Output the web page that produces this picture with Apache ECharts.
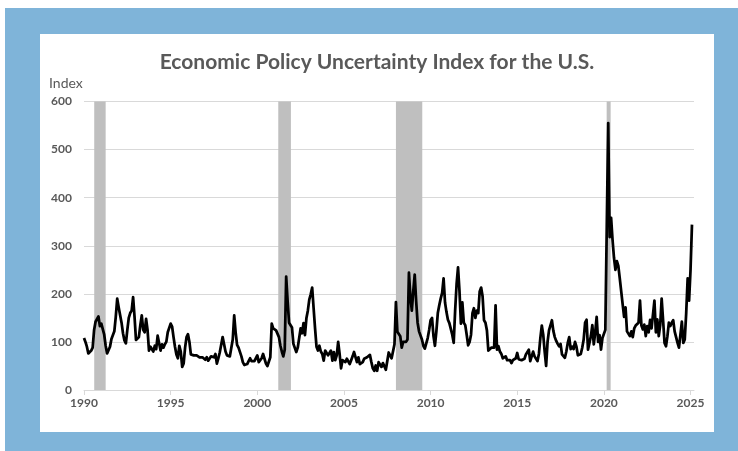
<!DOCTYPE html>
<html><head><meta charset="utf-8">
<script src="https://cdn.jsdelivr.net/npm/echarts@6/dist/echarts.min.js"></script>
<style>html,body{margin:0;padding:0;background:#fff;}#c{width:738px;height:451px;}</style>
</head><body><div id="c"></div>
<script>
// Monthly Economic Policy Uncertainty index, starting January 1990
const startYear = 1990;
const epu1990s = [
  108,100,90,76,77,82,88,125,142,140,153,133,
  138,135,115,92,76,76,90,106,110,122,152,190,
  172,170,140,118,103,97,125,150,160,165,193,152,
  104,108,110,135,155,125,120,148,125,82,90,88,
  80,92,85,113,112,82,95,88,95,100,120,117,
  138,132,110,90,74,66,92,80,48,55,88,110,
  116,100,74,70,72,70,72,70,68,72,68,66,
  63,68,61,62,70,74,68,75,55,66,78,82,
  110,95,80,72,68,70,72,105,155,120,94,88,
  86,70,58,52,50,54,60,66,60,63,60,58
];
const epu2000s = [
  72,58,60,66,75,65,55,50,48,68,138,128,
  126,124,122,110,92,80,70,84,236,185,140,142,
  130,96,93,79,88,86,128,118,139,114,149,165,
  188,199,213,170,128,90,82,92,80,75,61,82,
  80,72,72,82,61,79,62,72,100,75,45,62,
  62,58,65,68,54,62,70,79,82,58,68,54,
  56,58,65,62,68,65,73,58,45,40,51,40,
  58,61,48,56,55,42,45,78,74,66,70,95,
  183,121,124,112,88,100,96,100,105,244,195,165,
  205,240,185,140,122,118,105,92,86,89,108,125
];
const epu2010s = [
  145,150,112,92,122,160,176,190,202,232,182,162,
  146,139,135,115,98,165,220,255,206,138,182,140,
  135,115,93,100,115,160,170,150,165,160,205,213,
  195,145,140,124,82,81,88,91,88,176,84,91,
  80,75,66,63,70,62,66,62,56,62,59,66,
  77,64,60,62,60,65,74,77,84,60,70,80,
  70,68,60,75,108,134,115,80,50,100,124,125,
  145,123,110,102,96,91,96,74,77,67,80,98,
  110,85,90,85,100,90,72,72,75,88,105,140,
  146,84,85,112,135,95,120,152,100,114,84,108
];
const epu2020s = [
  112,125,340,555,318,358,312,275,250,268,258,232,
  205,178,152,172,122,125,112,122,110,128,134,136,
  140,186,134,126,136,112,133,120,146,128,130,186,
  120,147,112,135,190,145,98,91,112,140,133,140,
  145,122,110,98,88,92,142,98,105,160,232,186,
  250,344
];
// NBER recessions (decimal years, as shaded in the reference)
const recessionStart = [1990.59, 2001.21, 2008.0, 2020.16];
const recessionEnd   = [1991.25, 2001.94, 2009.52, 2020.39];
const xTickYears = [1990, 1995, 2000, 2005, 2010, 2015, 2020, 2025];

const values = [].concat(epu1990s, epu2000s, epu2010s, epu2020s);
const lineData = values.map((v, i) => [startYear + i / 12, v]);
const recData = recessionStart.map((s, i) => [s, recessionEnd[i]]);

const FONT = 'Lato';
const GREY = '#595959';
const chart = echarts.init(document.getElementById('c'), null, {renderer: 'canvas'});
chart.setOption({
  animation: false,
  backgroundColor: 'transparent',
  graphic: [
    {type: 'rect', z: -100, shape: {x: 5, y: 8, width: 733, height: 443}, style: {fill: '#7fb4d9'}},
    {type: 'rect', z: -99, shape: {x: 40, y: 34, width: 674, height: 398}, style: {fill: '#ffffff'}},
    {type: 'text', z: 100, x: 377, y: 62, style: {text: 'Economic Policy Uncertainty Index for the U.S.', textAlign: 'center', textVerticalAlign: 'middle', fill: GREY, font: 'bold 21px ' + FONT}},
    {type: 'text', z: 100, x: 49, y: 83, style: {text: 'Index', textAlign: 'left', textVerticalAlign: 'middle', fill: GREY, font: '14px ' + FONT}}
  ],
  grid: {left: 84, right: 44, top: 101.5, bottom: 61, containLabel: false},
  xAxis: {
    type: 'value', min: 1990, max: 2025.2, interval: 5,
    axisLine: {show: true, lineStyle: {color: '#d9d9d9', width: 1}},
    axisTick: {show: true, length: 5, customValues: xTickYears, lineStyle: {color: '#d9d9d9'}},
    axisLabel: {customValues: xTickYears, formatter: function (v) { return String(Math.round(v)); },
      color: GREY, fontWeight: 'bold', fontSize: 12, fontFamily: FONT, margin: 7},
    splitLine: {show: false}
  },
  yAxis: {
    type: 'value', min: 0, max: 600, interval: 100,
    axisLine: {show: false}, axisTick: {show: false},
    axisLabel: {color: GREY, fontWeight: 'bold', fontSize: 12, fontFamily: FONT, margin: 12},
    splitLine: {show: true, lineStyle: {color: '#d9d9d9', width: 1}}
  },
  series: [
    {
      type: 'custom', z: 1, silent: true,
      data: recData,
      encode: {x: [0, 1]},
      renderItem: function (params, api) {
        const p0 = api.coord([api.value(0), 600]);
        const p1 = api.coord([api.value(1), 0]);
        return {type: 'rect', shape: {x: p0[0], y: p0[1], width: p1[0] - p0[0], height: p1[1] - p0[1]}, style: {fill: '#bfbfbf'}};
      }
    },
    {
      type: 'line', z: 3, data: lineData, showSymbol: false, symbol: 'none',
      lineStyle: {color: '#000', width: 2.75, join: 'round'}
    }
  ]
});
</script></body></html>
